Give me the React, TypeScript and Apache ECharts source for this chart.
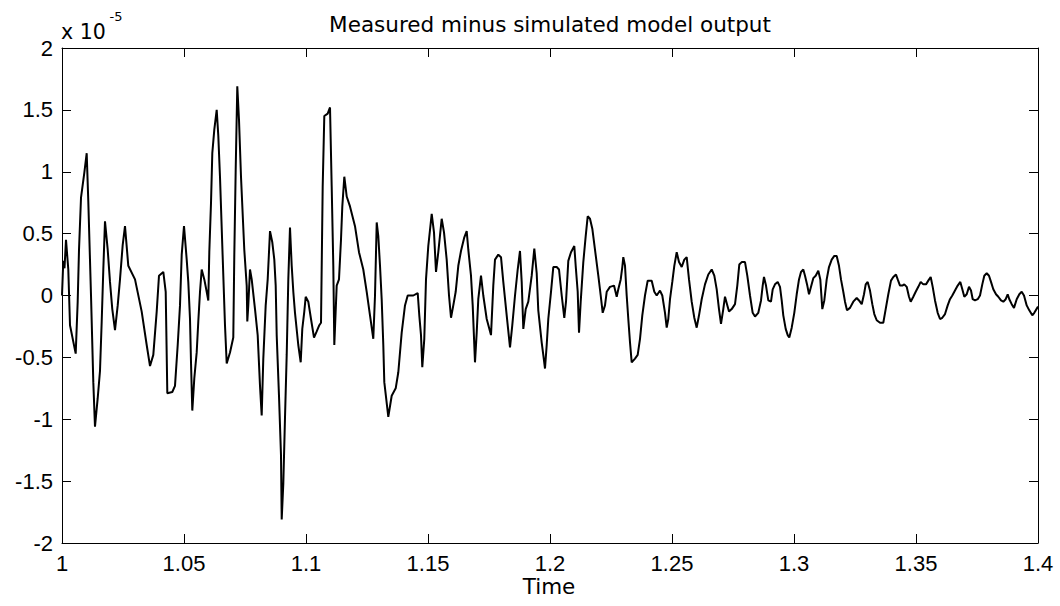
import React, { useEffect, useRef } from "react";
import * as echarts from "echarts";

// Time axis values (s) of the traced vertices
const timeValues: number[] = [
  1.0, 1.00053, 1.00102, 1.00164, 1.00258, 1.00328, 1.00561, 1.00643, 1.00697, 1.00779,
  1.00914, 1.01012, 1.01078, 1.01189, 1.01283, 1.01352, 1.01463, 1.01557, 1.01627, 1.01693,
  1.01762, 1.01873, 1.01967, 1.02061, 1.02172, 1.02283, 1.02377, 1.02488, 1.02582, 1.02717,
  1.02992, 1.03266, 1.03471, 1.03607, 1.03742, 1.03881, 1.03975, 1.04152, 1.0425, 1.04316,
  1.0452, 1.04631, 1.04742, 1.04836, 1.04906, 1.05, 1.05111, 1.05176, 1.05246, 1.05287,
  1.0534, 1.05422, 1.0552, 1.05586, 1.05656, 1.05725, 1.05832, 1.0593, 1.05996, 1.06037,
  1.06107, 1.0616, 1.06242, 1.0634, 1.06406, 1.06475, 1.0657, 1.0668, 1.0675, 1.06885,
  1.0702, 1.07061, 1.07119, 1.07184, 1.07254, 1.07336, 1.07471, 1.0757, 1.07594, 1.07635,
  1.07705, 1.07775, 1.0791, 1.0802, 1.08115, 1.08184, 1.0825, 1.08348, 1.0843, 1.08525,
  1.08619, 1.08701, 1.08758, 1.08799, 1.08893, 1.08975, 1.09004, 1.0907, 1.09139, 1.09209,
  1.09275, 1.09344, 1.09414, 1.0948, 1.09549, 1.09684, 1.09783, 1.09848, 1.0993, 1.09988,
  1.10094, 1.10205, 1.10328, 1.10439, 1.10545, 1.10615, 1.10684, 1.1075, 1.10889, 1.10984,
  1.11053, 1.11119, 1.1116, 1.11258, 1.11352, 1.11434, 1.11488, 1.1157, 1.11668, 1.11803,
  1.12008, 1.12172, 1.12348, 1.12488, 1.12623, 1.12758, 1.12828, 1.12898, 1.12963, 1.13033,
  1.13102, 1.13168, 1.13209, 1.13373, 1.13512, 1.13676, 1.13783, 1.13922, 1.14057, 1.14168,
  1.14398, 1.14578, 1.14643, 1.14713, 1.14766, 1.14848, 1.14918, 1.15012, 1.15152, 1.15246,
  1.15328, 1.15422, 1.15561, 1.15656, 1.15766, 1.15861, 1.15943, 1.16037, 1.16135, 1.16242,
  1.16352, 1.16488, 1.16586, 1.16652, 1.16762, 1.16832, 1.16926, 1.16996, 1.17061, 1.17172,
  1.17266, 1.17406, 1.17582, 1.17676, 1.17746, 1.17881, 1.17992, 1.18086, 1.18225, 1.18361,
  1.18455, 1.18566, 1.18676, 1.1877, 1.1884, 1.18906, 1.19004, 1.19111, 1.1925, 1.19357,
  1.19455, 1.1952, 1.1966, 1.19725, 1.19795, 1.19865, 1.1993, 1.20041, 1.20135, 1.20275,
  1.20369, 1.2048, 1.20586, 1.20656, 1.2075, 1.20861, 1.20996, 1.21053, 1.21135, 1.21189,
  1.21258, 1.21365, 1.21463, 1.21545, 1.21639, 1.21734, 1.21844, 1.2198, 1.22078, 1.2216,
  1.22254, 1.22324, 1.22459, 1.22623, 1.22734, 1.22799, 1.22898, 1.22963, 1.23004, 1.23074,
  1.23143, 1.23209, 1.23279, 1.23348, 1.23484, 1.23594, 1.23689, 1.23783, 1.23893, 1.24004,
  1.24168, 1.24275, 1.24373, 1.24508, 1.24602, 1.24713, 1.24783, 1.24848, 1.24918, 1.25012,
  1.25094, 1.25193, 1.25287, 1.25398, 1.25504, 1.25602, 1.25697, 1.25807, 1.25914, 1.26012,
  1.26107, 1.26217, 1.26352, 1.26488, 1.26627, 1.26734, 1.26832, 1.26926, 1.27008, 1.27102,
  1.27172, 1.27254, 1.27336, 1.27447, 1.27582, 1.27676, 1.27758, 1.27857, 1.27992, 1.28086,
  1.28197, 1.28307, 1.28402, 1.28537, 1.28648, 1.28717, 1.2877, 1.28852, 1.28947, 1.29057,
  1.29127, 1.29221, 1.29332, 1.29426, 1.29496, 1.29561, 1.2966, 1.29742, 1.29807, 1.29906,
  1.30012, 1.30111, 1.30205, 1.30287, 1.30381, 1.30451, 1.30545, 1.30615, 1.30697, 1.30791,
  1.30889, 1.30996, 1.31078, 1.3116, 1.31242, 1.3134, 1.31434, 1.31545, 1.31652, 1.3175,
  1.31844, 1.31926, 1.3202, 1.3209, 1.32172, 1.32295, 1.3243, 1.3257, 1.32664, 1.32775,
  1.32869, 1.32939, 1.3302, 1.33115, 1.33209, 1.33291, 1.33389, 1.33525, 1.3366, 1.33758,
  1.33865, 1.33975, 1.3407, 1.3418, 1.3425, 1.34344, 1.34439, 1.3452, 1.34619, 1.34713,
  1.34783, 1.34889, 1.34988, 1.35094, 1.35193, 1.35299, 1.3541, 1.35504, 1.35602, 1.35684,
  1.35779, 1.35889, 1.35984, 1.36078, 1.36189, 1.36299, 1.36393, 1.36488, 1.36598, 1.36709,
  1.36816, 1.36898, 1.3698, 1.37078, 1.37172, 1.37254, 1.37324, 1.37418, 1.37529, 1.37623,
  1.37717, 1.37799, 1.37898, 1.37992, 1.38074, 1.38168, 1.38279, 1.38373, 1.38484, 1.38578,
  1.38676, 1.38758, 1.38824, 1.38922, 1.39016, 1.39127, 1.39234, 1.39332, 1.39426, 1.39537,
  1.39643, 1.39766, 1.39848, 1.4,
];

// Measured minus simulated output, in units of 1e-5
const residualValues: number[] = [
  0.0, 0.28, 0.22, 0.45, 0.21, -0.24, -0.47, -0.05, 0.37, 0.79,
  0.99, 1.15, 0.76, 0.0, -0.7, -1.06, -0.83, -0.61, -0.21, 0.21,
  0.6, 0.37, 0.11, -0.11, -0.28, -0.08, 0.13, 0.41, 0.56, 0.24,
  0.13, -0.13, -0.4, -0.57, -0.48, -0.13, 0.16, 0.19, 0.03, -0.79,
  -0.78, -0.73, -0.4, -0.08, 0.33, 0.56, 0.29, 0.11, -0.19, -0.54,
  -0.93, -0.67, -0.46, -0.21, 0.03, 0.21, 0.13, 0.03, -0.04, 0.35,
  0.75, 1.15, 1.34, 1.5, 1.29, 0.96, 0.4, -0.24, -0.55, -0.46,
  -0.34, 0.32, 1.02, 1.69, 1.42, 0.96, 0.37, 0.08, -0.21, -0.08,
  0.21, 0.13, -0.11, -0.32, -0.73, -0.97, -0.51, -0.08, 0.13, 0.52,
  0.43, 0.29, 0.08, -0.32, -0.81, -1.29, -1.81, -1.52, -0.99, -0.48,
  0.13, 0.55, 0.24, 0.03, -0.14, -0.4, -0.54, -0.27, -0.13, -0.01,
  -0.05, -0.19, -0.34, -0.29, -0.24, -0.22, 0.88, 1.45, 1.47, 1.52,
  0.88, 0.24, -0.4, 0.08, 0.13, 0.45, 0.72, 0.96, 0.8, 0.72,
  0.56, 0.35, 0.21, 0.03, -0.16, -0.35, 0.0, 0.59, 0.48, 0.24,
  -0.03, -0.4, -0.7, -0.98, -0.81, -0.75, -0.62, -0.3, -0.08, 0.0,
  0.0, 0.02, -0.16, -0.32, -0.58, -0.35, 0.13, 0.4, 0.66, 0.51,
  0.19, 0.35, 0.62, 0.51, 0.29, 0.0, -0.18, -0.08, 0.03, 0.24,
  0.36, 0.47, 0.52, 0.37, 0.16, -0.08, -0.54, -0.3, -0.03, 0.16,
  0.0, -0.19, -0.32, 0.08, 0.29, 0.33, 0.31, 0.11, -0.16, -0.42,
  -0.24, 0.0, 0.21, 0.36, 0.11, -0.27, -0.11, -0.05, 0.16, 0.38,
  0.18, -0.12, -0.38, -0.48, -0.59, -0.4, -0.19, 0.03, 0.23, 0.23,
  0.21, 0.0, -0.18, -0.05, 0.28, 0.35, 0.4, 0.24, 0.03, -0.3,
  -0.05, 0.27, 0.48, 0.64, 0.62, 0.54, 0.37, 0.16, 0.0, -0.14,
  -0.08, 0.03, 0.07, 0.08, -0.01, 0.05, 0.13, 0.23, 0.31, 0.24,
  0.0, -0.19, -0.38, -0.54, -0.51, -0.48, -0.35, -0.16, 0.0, 0.12,
  0.12, 0.03, 0.0, 0.04, 0.0, -0.14, -0.26, -0.19, -0.03, 0.11,
  0.24, 0.35, 0.27, 0.23, 0.29, 0.31, 0.13, -0.05, -0.18, -0.26,
  -0.16, -0.03, 0.09, 0.17, 0.21, 0.16, 0.05, -0.11, -0.23, -0.11,
  -0.01, -0.07, -0.13, -0.11, -0.07, 0.08, 0.25, 0.27, 0.27, 0.16,
  0.0, -0.14, -0.17, -0.14, -0.04, 0.08, 0.15, 0.08, -0.04, -0.05,
  0.05, 0.09, 0.11, 0.07, -0.04, -0.16, -0.27, -0.32, -0.34, -0.26,
  -0.14, 0.01, 0.13, 0.19, 0.21, 0.16, 0.08, 0.01, 0.07, 0.14,
  0.16, 0.2, 0.13, -0.11, -0.04, 0.13, 0.23, 0.29, 0.32, 0.32,
  0.24, 0.13, 0.03, -0.05, -0.12, -0.1, -0.05, -0.02, -0.04, -0.07,
  0.01, 0.09, 0.11, 0.04, -0.07, -0.15, -0.2, -0.22, -0.22, -0.11,
  0.01, 0.12, 0.15, 0.17, 0.13, 0.08, 0.08, 0.09, 0.07, -0.01,
  -0.05, -0.01, 0.03, 0.07, 0.11, 0.09, 0.09, 0.12, 0.15, 0.07,
  -0.04, -0.14, -0.19, -0.18, -0.15, -0.08, -0.03, 0.0, 0.04, 0.08,
  0.11, 0.05, -0.01, 0.01, 0.07, 0.04, -0.03, -0.04, -0.03, 0.0,
  0.09, 0.16, 0.18, 0.16, 0.11, 0.05, 0.01, -0.01, -0.04, -0.05,
  -0.03, 0.01, -0.03, -0.07, -0.1, -0.03, 0.01, 0.03, 0.0, -0.08,
  -0.12, -0.16, -0.14, -0.09,
];

const xTickLabels: string[] = ["1", "1.05", "1.1", "1.15", "1.2", "1.25", "1.3", "1.35", "1.4"];
const yTickLabels: string[] = ["-2", "-1.5", "-1", "-0.5", "0", "0.5", "1", "1.5", "2"];

const titleText = "Measured minus simulated model output";
const xLabelText = "Time";
const exponentBase = "x 10";
const exponentPower = "-5";

const X_MIN = 1;
const X_MAX = 1.4;
const X_STEP = 0.05;
const Y_MIN = -2;
const Y_MAX = 2;
const Y_STEP = 0.5;

const TICK_FONT = "'Liberation Sans', Arial, Helvetica, sans-serif";
const TEXT_FONT = "'DejaVu Sans', 'Liberation Sans', sans-serif";

export default function App() {
  const ref = useRef<HTMLDivElement>(null);

  useEffect(() => {
    if (!ref.current) return;
    const chart = echarts.init(ref.current, undefined, { renderer: "svg" });

    const data = timeValues.map((t, i) => [t, residualValues[i]]);

    const xLabel = (v: number) => {
      const idx = Math.round((v - X_MIN) / X_STEP);
      return xTickLabels[idx] ?? "";
    };
    const yLabel = (v: number) => {
      const idx = Math.round((v - Y_MIN) / Y_STEP);
      return yTickLabels[idx] ?? "";
    };

    const axisLine = { show: true, onZero: false, lineStyle: { color: "#000", width: 1 } };
    const axisTick = { show: true, inside: true, length: 9, lineStyle: { color: "#000", width: 1 } };

    chart.setOption({
      animation: false,
      backgroundColor: "#fff",
      grid: { left: 62, right: 22, top: 48, bottom: 63, containLabel: false },
      xAxis: [
        {
          type: "value",
          position: "bottom",
          min: X_MIN,
          max: X_MAX,
          interval: X_STEP,
          axisLine,
          axisTick,
          splitLine: { show: false },
          axisLabel: {
            show: true,
            margin: 11.5,
            color: "#000",
            fontFamily: TICK_FONT,
            fontSize: 22,
            lineHeight: 18,
            formatter: xLabel,
          },
        },
        {
          type: "value",
          position: "top",
          min: X_MIN,
          max: X_MAX,
          interval: X_STEP,
          axisLine,
          axisTick,
          splitLine: { show: false },
          axisLabel: { show: false },
        },
      ],
      yAxis: [
        {
          type: "value",
          position: "left",
          min: Y_MIN,
          max: Y_MAX,
          interval: Y_STEP,
          axisLine,
          axisTick,
          splitLine: { show: false },
          axisLabel: {
            show: true,
            margin: 9,
            color: "#000",
            fontFamily: TICK_FONT,
            fontSize: 22,
            lineHeight: 22,
            formatter: yLabel,
          },
        },
        {
          type: "value",
          position: "right",
          min: Y_MIN,
          max: Y_MAX,
          interval: Y_STEP,
          axisLine,
          axisTick,
          splitLine: { show: false },
          axisLabel: { show: false },
        },
      ],
      graphic: [
        {
          type: "text",
          x: 550,
          y: 24.3,
          style: {
            text: titleText,
            fill: "#000",
            font: `21.5px ${TEXT_FONT}`,
            align: "center",
            verticalAlign: "middle",
          },
        },
        {
          type: "text",
          x: 549,
          y: 586.5,
          style: {
            text: xLabelText,
            fill: "#000",
            font: `21.5px ${TEXT_FONT}`,
            lineHeight: 18,
            align: "center",
            verticalAlign: "middle",
          },
        },
        {
          type: "text",
          x: 61,
          y: 32.2,
          style: {
            text: exponentBase,
            fill: "#000",
            font: `20.5px ${TEXT_FONT}`,
            align: "left",
            verticalAlign: "middle",
          },
        },
        {
          type: "text",
          x: 109.5,
          y: 16.5,
          style: {
            text: exponentPower,
            fill: "#000",
            font: `13px ${TEXT_FONT}`,
            align: "left",
            verticalAlign: "middle",
          },
        },
      ],
      series: [
        {
          type: "line",
          xAxisIndex: 0,
          yAxisIndex: 0,
          data,
          showSymbol: false,
          symbol: "none",
          lineStyle: { color: "#000", width: 2 },
          itemStyle: { color: "#000" },
          silent: true,
        },
      ],
    });

    return () => {
      chart.dispose();
    };
  }, []);

  return (
    <div
      ref={ref}
      style={{ position: "fixed", left: 0, top: 0, width: 1060, height: 606, background: "#fff" }}
    />
  );
}
